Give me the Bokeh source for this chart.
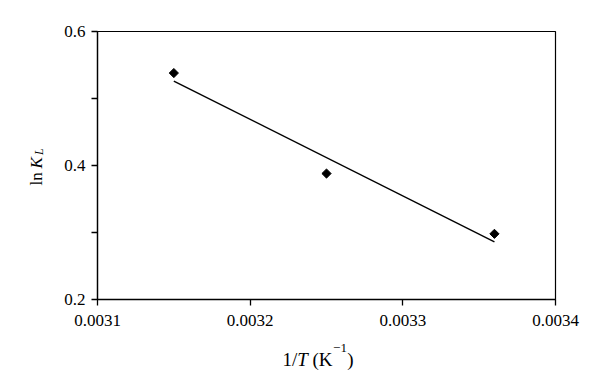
import math
from bokeh.plotting import figure
from bokeh.layouts import row, column
from bokeh.models import Range1d, FixedTicker, PrintfTickFormatter, Label
from bokeh.embed import file_html
from bokeh.resources import INLINE

# data
inv_T = [0.00315, 0.00325, 0.00336]
ln_KL = [0.538, 0.388, 0.298]
fit_x = [0.00315, 0.00336]
fit_y = [0.526, 0.286]
x_ticks = [0.0031, 0.0032, 0.0033, 0.0034]
y_ticks = [0.2, 0.4, 0.6]
y_minor = [0.3, 0.5]

FONT = "Liberation Serif"
TOTAL_W, TOTAL_H = 592, 377
LEFT_W = 50           # strip holding the y title
MAIN_H = 340          # main figure height; strip below holds the x title
BL, BR = 47, 37       # main figure side borders

p = figure(width=TOTAL_W - LEFT_W, height=MAIN_H, output_backend="svg",
           toolbar_location=None,
           x_range=Range1d(0.0031, 0.0034), y_range=Range1d(0.2, 0.6),
           min_border_left=BL, min_border_right=BR, min_border_top=31,
           min_border_bottom=41)
p.grid.visible = False
p.outline_line_color = "black"
p.outline_line_width = 1.2
p.background_fill_color = "white"
p.border_fill_color = "white"

p.line(fit_x, fit_y, line_color="black", line_width=1.4)
p.scatter(inv_T, ln_KL, marker="square", angle=math.pi / 4, size=6.5,
          fill_color="black", line_color="black")

for ax in (p.xaxis[0], p.yaxis[0]):
    ax.axis_line_color = "black"
    ax.axis_line_width = 1.3
    ax.major_tick_line_color = "black"
    ax.major_tick_line_width = 1.3
    ax.minor_tick_line_color = "black"
    ax.minor_tick_line_width = 1.3
    ax.major_tick_in = 0
    ax.major_tick_out = 6
    ax.minor_tick_in = 0
    ax.major_label_text_font = FONT
    ax.major_label_text_font_size = "17px"
    ax.major_label_text_color = "black"

p.xaxis.ticker = FixedTicker(ticks=x_ticks, minor_ticks=[])
p.xaxis.formatter = PrintfTickFormatter(format="%.4f")
p.xaxis.minor_tick_out = 0
p.xaxis.major_label_standoff = 9

p.yaxis.ticker = FixedTicker(ticks=y_ticks, minor_ticks=y_minor)
p.yaxis.formatter = PrintfTickFormatter(format="%.1f")
p.yaxis.minor_tick_out = 6
p.yaxis.major_label_standoff = 6


def strip(w, h, xr, yr):
    f = figure(width=w, height=h, output_backend="svg", toolbar_location=None,
               x_range=Range1d(*xr), y_range=Range1d(*yr),
               x_axis_location=None, y_axis_location=None, min_border=0)
    f.grid.visible = False
    f.outline_line_color = None
    f.background_fill_color = "white"
    f.border_fill_color = "white"
    return f


# strips use page-pixel coordinates (y downward) for placing title pieces.
# The lower strip's frame is aligned with the main frame by the column layout.
ystrip = strip(LEFT_W, TOTAL_H, (0, LEFT_W), (TOTAL_H, 0))
xstrip = strip(TOTAL_W - LEFT_W, TOTAL_H - MAIN_H,
               (LEFT_W + BL, TOTAL_W - BR), (TOTAL_H, MAIN_H))


def lab(fig, text, x, y, size, style="normal", angle=0.0):
    fig.add_layout(Label(x=x, y=y, text=text, text_font=FONT,
                         text_font_size=size, text_font_style=style,
                         text_color="black", text_align="left",
                         text_baseline="alphabetic", angle=angle))


# x axis title: 1/T (K^-1)
lab(xstrip, "1/", 282.0, 359.3, "19px")
lab(xstrip, "T", 296.8, 359.3, "19px", "italic")
lab(xstrip, "(K", 312.0, 359.3, "19px")
lab(xstrip, "\u22121", 332.6, 347.0, "13px")
lab(xstrip, ")", 346.8, 359.3, "19px")

# y axis title: ln K_L
rot = math.pi / 2
lab(ystrip, "ln", 35.5, 185.0, "17px", angle=rot)
lab(ystrip, "K", 35.5, 168.0, "17px", "italic", angle=rot)
lab(ystrip, "L", 38.5, 154.5, "12px", "italic", angle=rot)

layout = row(ystrip, column(p, xstrip))
open("out.html", "w").write(file_html(layout, INLINE))
